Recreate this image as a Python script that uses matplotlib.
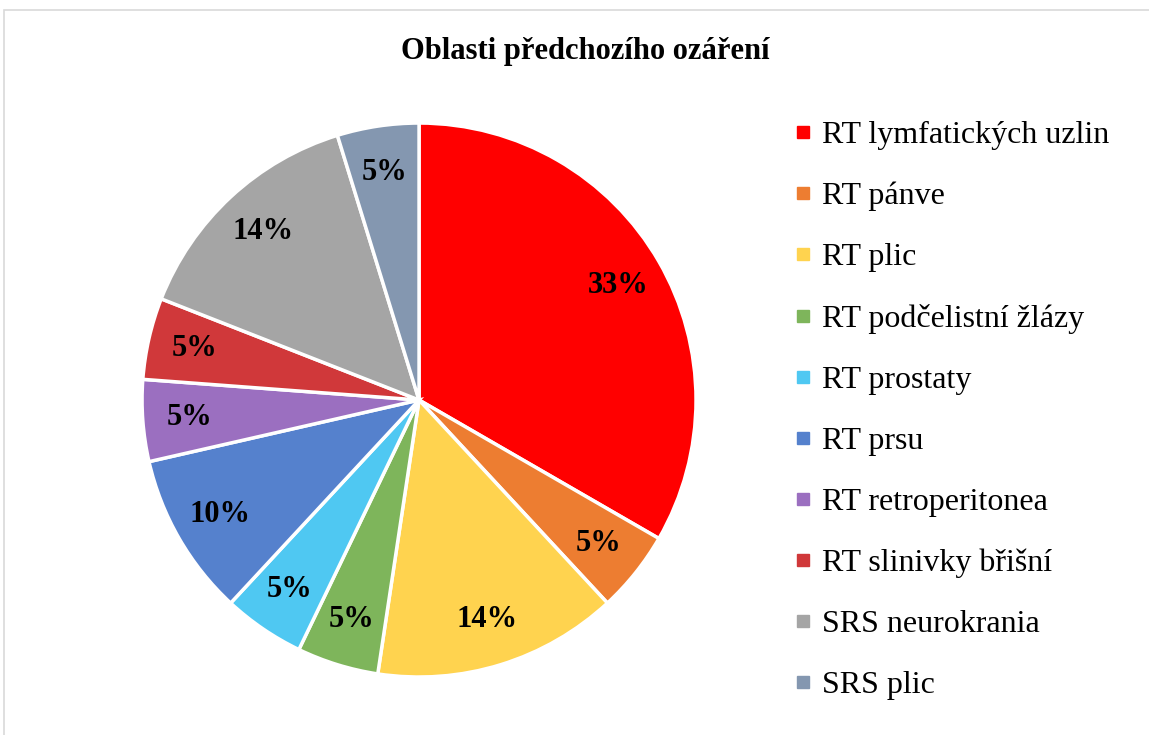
import matplotlib
matplotlib.use("Agg")
import matplotlib.pyplot as plt
from matplotlib.patches import Rectangle
from matplotlib.lines import Line2D

labels = ["RT lymfatických uzlin", "RT pánve", "RT plic", "RT podčelistní žlázy",
          "RT prostaty", "RT prsu", "RT retroperitonea", "RT slinivky břišní",
          "SRS neurokrania", "SRS plic"]
counts = [7, 1, 3, 1, 1, 2, 1, 1, 3, 1]
colors = ["#FF0000", "#ED7D31", "#FFD34F", "#7EB55B", "#4FC8F2",
          "#5581CD", "#9B6FC0", "#D0383A", "#A5A5A5", "#8497B0"]

plt.rcParams["font.family"] = ["Liberation Serif", "DejaVu Serif"]

fig = plt.figure(figsize=(11.49, 7.35), dpi=100)
fig.patches.append(Rectangle((4 / 1149, -0.01), 1.02, 1 - 10 / 735 + 0.01,
                             transform=fig.transFigure, fill=False,
                             edgecolor="#D9D9D9", linewidth=1.2))

ax = fig.add_axes([0.1236, 0.0789, 0.4822, 0.7537])
wedges, texts, autotexts = ax.pie(
    counts, colors=colors, startangle=90, counterclock=False,
    autopct=lambda p: f"{p:.0f}%", pctdistance=0.83,
    wedgeprops=dict(edgecolor="white", linewidth=2.5),
    textprops=dict(fontsize=22, fontweight="bold", color="black"))
ax.set_xlim(-1, 1)
ax.set_ylim(-1, 1)
ax.set_aspect("equal")

fig.text(585 / 1149, 1 - 52 / 735, "Oblasti předchozího ozáření",
         ha="center", va="center", fontsize=22, fontweight="bold")

handles = [Line2D([], [], marker="s", linestyle="none", markersize=8,
                  markerfacecolor=c, markeredgecolor=c) for c in colors]
fig.legend(handles, labels, loc="upper left", bbox_to_anchor=(795 / 1149, 1 - 121 / 735),
           frameon=False, fontsize=23, labelspacing=0.99, handlelength=0.5,
           handletextpad=0.35, borderpad=0, borderaxespad=0)

fig.savefig("out.png", dpi=100)
